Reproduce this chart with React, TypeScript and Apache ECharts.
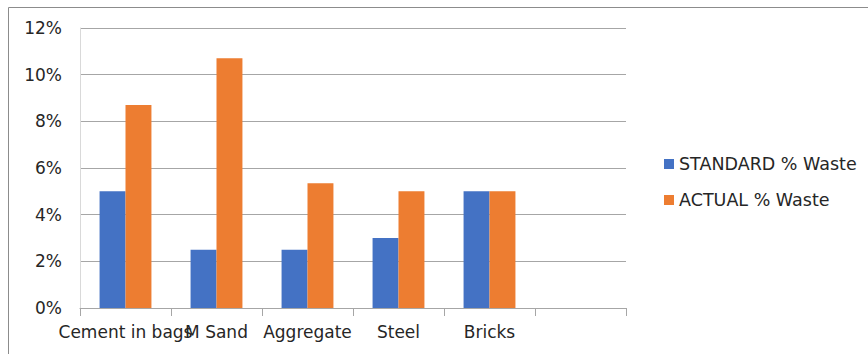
import React, { useEffect, useRef } from "react";
import * as echarts from "echarts";

const categories = ["Cement in bags", "M Sand", "Aggregate", "Steel", "Bricks", ""];
const standardWaste = [5, 2.5, 2.5, 3, 5, null];
const actualWaste = [8.7, 10.7, 5.35, 5, 5, null];
const seriesNames = ["STANDARD % Waste", "ACTUAL % Waste"];

const FONT = "DejaVu Sans";

export default function App() {
  const ref = useRef<HTMLDivElement>(null);
  useEffect(() => {
    if (!ref.current) return;
    const chart = echarts.init(ref.current, undefined, { renderer: "svg" });
    chart.setOption({
      animation: false,
      backgroundColor: "#ffffff",
      textStyle: { fontFamily: FONT },
      grid: { left: 80, right: 242, top: 28, bottom: 46, containLabel: false },
      legend: {
        orient: "vertical",
        left: 659,
        top: 150,
        itemWidth: 10,
        itemHeight: 10,
        itemGap: 18,
        icon: "rect",
        textStyle: { fontFamily: FONT, fontSize: 17.5, color: "#262626", padding: [0, 0, 0, 0] },
        data: seriesNames,
      },
      xAxis: {
        type: "category",
        data: categories,
        axisLine: { show: true, lineStyle: { color: "#a6a6a6", width: 1 } },
        axisTick: { show: true, length: 8, lineStyle: { color: "#a6a6a6" } },
        axisLabel: {
          interval: 0,
          hideOverlap: false,
          fontFamily: FONT,
          fontSize: 17,
          color: "#262626",
          margin: 15,
        },
      },
      yAxis: {
        type: "value",
        min: 0,
        max: 12,
        interval: 2,
        axisLine: { show: true, lineStyle: { color: "#d9d9d9", width: 1 } },
        axisTick: { show: false },
        splitLine: { lineStyle: { color: "#a6a6a6", width: 1 } },
        axisLabel: {
          formatter: "{value}%",
          fontFamily: FONT,
          fontSize: 17,
          color: "#262626",
          margin: 18,
        },
      },
      series: [
        {
          name: seriesNames[0],
          type: "bar",
          data: standardWaste,
          itemStyle: { color: "#4472C4" },
          barGap: "0%",
          barCategoryGap: "43%",
        },
        {
          name: seriesNames[1],
          type: "bar",
          data: actualWaste,
          itemStyle: { color: "#ED7D31" },
          barGap: "0%",
          barCategoryGap: "43%",
        },
      ],
      graphic: [
        { type: "line", shape: { x1: 8.5, y1: 7.5, x2: 868, y2: 7.5 }, style: { stroke: "#8c8c8c", lineWidth: 1 } },
        { type: "line", shape: { x1: 8.5, y1: 7.5, x2: 8.5, y2: 354 }, style: { stroke: "#8c8c8c", lineWidth: 1 } },
      ],
    });
    return () => chart.dispose();
  }, []);
  return (
    <div
      ref={ref}
      style={{ position: "fixed", left: 0, top: 0, width: 868, height: 354 }}
    />
  );
}
